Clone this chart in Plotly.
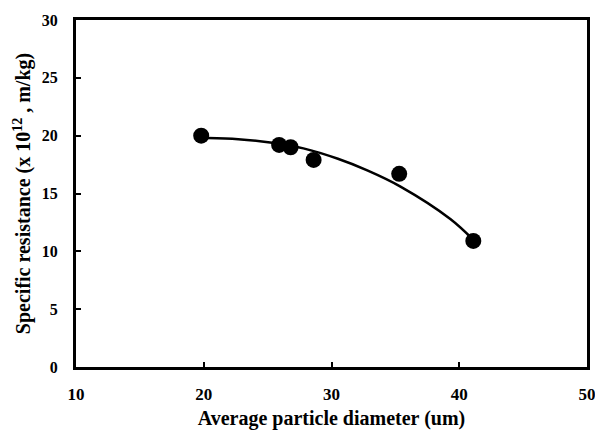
import plotly.graph_objects as go

# measured points
diam = [19.8, 25.9, 26.8, 28.6, 35.3, 41.1]
resist = [20.0, 19.2, 19.0, 17.9, 16.7, 10.9]

# fitted curve
fit_x = [19.8, 20.3, 22.7, 25.2, 27.8, 30.5, 32.8, 35.4, 39.3, 41.1]
fit_y = [19.8, 19.8, 19.7, 19.4, 18.9, 18.0, 17.0, 15.6, 12.8, 11.0]

x_ticks = [10, 20, 30, 40, 50]
y_ticks = [0, 5, 10, 15, 20, 25, 30]

font = "Liberation Serif"

fig = go.Figure()
fig.add_trace(go.Scatter(x=fit_x, y=fit_y, mode="lines",
                         line=dict(color="black", width=2.5, shape="spline"),
                         showlegend=False, hoverinfo="skip"))
fig.add_trace(go.Scatter(x=diam, y=resist, mode="markers",
                         marker=dict(color="black", size=16),
                         showlegend=False))

# page body has an 8px margin; compensate so the frame sits where the reference has it
fig.update_layout(
    width=595, height=426,
    margin=dict(l=68, r=16, t=12, b=67),
    paper_bgcolor="white", plot_bgcolor="white",
    font=dict(family=font, color="black", size=15),
    xaxis=dict(range=[10, 50], tickvals=x_ticks, automargin=False,
               ticks="inside", ticklen=5, tickwidth=2, tickcolor="black",
               showline=True, linewidth=3, linecolor="black", mirror=True,
               showgrid=False, zeroline=False, ticklabelstandoff=10,
               tickfont=dict(family=font, size=17, color="black", weight="bold"),
               title=dict(text="<b>Average particle diameter (um)</b>",
                          font=dict(family=font, size=20), standoff=8)),
    yaxis=dict(range=[0, 30], tickvals=y_ticks, automargin=False,
               ticks="inside", ticklen=5, tickwidth=2, tickcolor="black",
               showline=True, linewidth=3, linecolor="black", mirror=True,
               showgrid=False, zeroline=False, ticklabelstandoff=12,
               tickfont=dict(family=font, size=16, color="black", weight="bold"),
               title=dict(text="<b>Specific resistance (x 10<sup>12</sup> , m/kg)</b>",
                          font=dict(family=font, size=20), standoff=6)),
)

fig.write_html("out.html")
